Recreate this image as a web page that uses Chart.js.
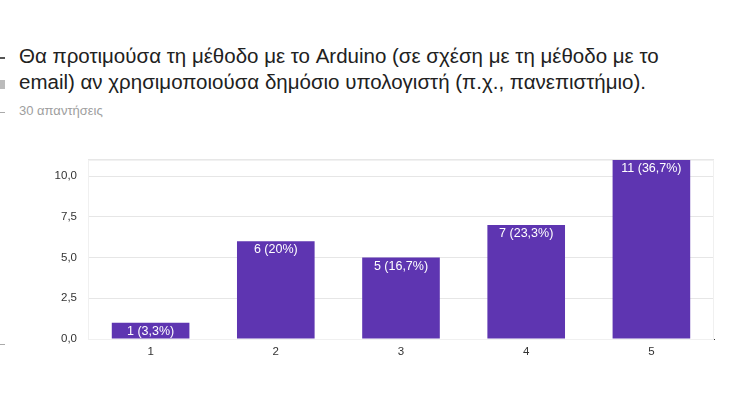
<!DOCTYPE html>
<html>
<head>
<meta charset="utf-8">
<script src="https://cdn.jsdelivr.net/npm/chart.js@4/dist/chart.umd.min.js"></script>
<style>
  html, body { margin: 0; padding: 0; background: #fff; }
  body { width: 733px; height: 406px; position: relative; overflow: hidden; font-family: "Liberation Sans", Arial, sans-serif; }
  #title { position: absolute; left: 19px; top: 43px; width: 700px; font-size: 20.5px; line-height: 26px; color: #212121; }
  #count { position: absolute; left: 19px; top: 103px; font-size: 13px; color: #9e9e9e; }
  .mark { position: absolute; left: 0; width: 5px; background: #9a9a9a; }
  #wrap { position: absolute; left: 0; top: 142px; width: 733px; height: 238px; }
</style>
</head>
<body>
<div class="mark" style="top:57px;height:2px;background:#555;"></div>
<div class="mark" style="top:80px;height:9px;background:#bbb;"></div>
<div class="mark" style="top:112px;height:1px;background:#aaa;"></div>
<div class="mark" style="top:344px;height:1px;background:#aaa;"></div>
<div id="title">Θα προτιμούσα τη μέθοδο με το Arduino (σε σχέση με τη μέθοδο με το<br>email) αν χρησιμοποιούσα δημόσιο υπολογιστή (π.χ., πανεπιστήμιο).</div>
<div id="count">30 απαντήσεις</div>
<div id="wrap"><canvas id="c"></canvas></div>
<script>
const categories = ["1", "2", "3", "4", "5"];
const counts = [1, 6, 5, 7, 11];
const yTicks = [0, 2.5, 5, 7.5, 10];
const totalResponses = 30;

function fmt(v, d) { return v.toFixed(d).replace('.', ','); }
function pctLabel(v) {
  let p = fmt(Math.round(v / totalResponses * 1000) / 10, 1);
  if (p.endsWith(',0')) p = p.slice(0, -2);
  return v + ' (' + p + '%)';
}

const labelPlugin = {
  id: 'barLabels',
  afterDatasetsDraw(chart) {
    const ctx = chart.ctx;
    const meta = chart.getDatasetMeta(0);
    ctx.save();
    ctx.fillStyle = '#ffffff';
    ctx.font = '12.5px "Liberation Sans", Arial, sans-serif';
    ctx.textAlign = 'center';
    ctx.textBaseline = 'middle';
    meta.data.forEach((bar, i) => {
      ctx.fillText(pctLabel(counts[i]), bar.x, bar.y + 8.5);
    });
    ctx.restore();
  }
};

const framePlugin = {
  id: 'frame',
  beforeDatasetsDraw(chart) {
    const a = chart.chartArea;
    const ctx = chart.ctx;
    ctx.save();
    ctx.strokeStyle = '#f0f0f0';
    ctx.lineWidth = 1;
    ctx.strokeRect(a.left + 0.5, a.top + 0.5, a.right - a.left - 1, a.bottom - a.top);
    ctx.restore();
  }
};

new Chart(document.getElementById('c'), {
  type: 'bar',
  data: {
    labels: categories,
    datasets: [{
      data: counts,
      backgroundColor: '#5e35b1',
      categoryPercentage: 0.62,
      barPercentage: 1.0
    }]
  },
  options: {
    responsive: true,
    maintainAspectRatio: false,
    animation: false,
    layout: { padding: { left: 0, right: 19, top: 2, bottom: 0 } },
    plugins: { legend: { display: false }, tooltip: { enabled: false } },
    scales: {
      x: {
        grid: { display: false, drawTicks: false },
        border: { color: '#333333', width: 1 },
        ticks: { color: '#333', font: { family: '"Liberation Sans", Arial, sans-serif', size: 11.5 }, padding: 6 },
        afterFit(s) { s.height = 41; }
      },
      y: {
        min: 0,
        max: 11,
        afterBuildTicks(s) { s.ticks = yTicks.concat([11]).map(v => ({ value: v })); },
        grid: { color: '#e6e6e6', drawTicks: false },
        border: { display: false },
        ticks: {
          color: '#333',
          font: { family: '"Liberation Sans", Arial, sans-serif', size: 11.5 },
          padding: 11,
          callback: (v) => yTicks.includes(v) ? fmt(v, 1) : ''
        },
        afterFit(s) { s.width = 88; }
      }
    }
  },
  plugins: [framePlugin, labelPlugin]
});
</script>
</body>
</html>
